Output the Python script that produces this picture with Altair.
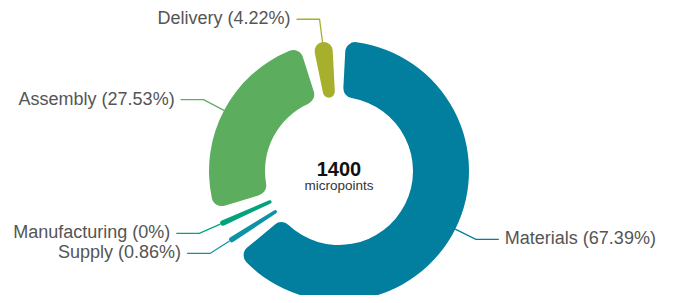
import math
import altair as alt
import pandas as pd

# ---- data ----
categories = ["Materials", "Supply", "Manufacturing", "Assembly", "Delivery"]
percents = [67.39, 0.86, 0.0, 27.53, 4.22]
colors = ["#027e9e", "#0c93a8", "#00a37c", "#5cae5e", "#a7b02d"]
center_value = "1400"
center_unit = "micropoints"

# ---- layout parameters (pixels / degrees) ----
W, H = 658, 287
CX, CY = 331, 163          # pie centre inside the view
R_IN, R_OUT = 74, 130
MIN_ANGLE = 8.5            # minimum sector angle (deg)
PAD = 6.0                  # angular gap between sectors (deg)
LEN1, LEN2, GAP = 23, 23, 6

# sector angles (small slices get MIN_ANGLE, the rest share what is left)
small = [p / 100 * 360 < MIN_ANGLE for p in percents]
rest = 360 - MIN_ANGLE * sum(small)
big_total = sum(p for p, s in zip(percents, small) if not s)
spans = [MIN_ANGLE if s else p / big_total * rest for p, s in zip(percents, small)]

arc_rows, line_rows, label_rows = [], [], []
start = 0.0
for cat, pct, span in zip(categories, percents, spans):
    a0, a1 = start + PAD / 2, start + span - PAD / 2
    start += span
    arc_rows.append({"cat": cat, "a0": a0, "a1": a1})
    mid = math.radians((a0 + a1) / 2)
    sx, cy_ = math.sin(mid), math.cos(mid)
    side = 1 if sx >= 0 else -1
    ax, ay = R_OUT * sx, R_OUT * cy_
    bx, by = (R_OUT + LEN1) * sx, (R_OUT + LEN1) * cy_
    cx_ = bx + side * LEN2
    for i, (px, py) in enumerate([(ax, ay), (bx, by), (cx_, by)]):
        line_rows.append({"cat": cat, "i": i, "x": px, "y": py})
    pct_txt = f"{pct:.2f}".rstrip("0").rstrip(".")
    label_rows.append({"cat": cat, "x": cx_ + side * GAP, "y": by,
                       "text": f"{cat} ({pct_txt}%)",
                       "align": "left" if side > 0 else "right"})

arcs = pd.DataFrame(arc_rows)
lines = pd.DataFrame(line_rows)
labels = pd.DataFrame(label_rows)

xs = alt.Scale(domain=[-CX, W - CX], nice=False, zero=False)
ys = alt.Scale(domain=[CY - H, CY], nice=False, zero=False)
cs = alt.Scale(domain=categories, range=colors)
FONT = "Liberation Sans"

arc = alt.Chart(arcs).mark_arc(innerRadius=R_IN, outerRadius=R_OUT, cornerRadius=10).encode(
    theta=alt.Theta("a0:Q", scale=alt.Scale(domain=[0, 360], range=[0, 2 * math.pi])),
    theta2="a1:Q",
    x=alt.datum(0, scale=xs, axis=None),
    y=alt.datum(0, scale=ys, axis=None),
    color=alt.Color("cat:N", scale=cs, legend=None),
)

leader = alt.Chart(lines).mark_line(strokeWidth=1.3).encode(
    x=alt.X("x:Q", scale=xs, axis=None),
    y=alt.Y("y:Q", scale=ys, axis=None),
    order="i:Q",
    detail="cat:N",
    color=alt.Color("cat:N", scale=cs, legend=None),
)

lab_r = alt.Chart(labels[labels["align"] == "left"]).mark_text(
    align="left", baseline="middle", font=FONT, fontSize=18, color="#555555"
).encode(x=alt.X("x:Q", scale=xs, axis=None), y=alt.Y("y:Q", scale=ys, axis=None), text="text:N")

lab_l = alt.Chart(labels[labels["align"] == "right"]).mark_text(
    align="right", baseline="middle", font=FONT, fontSize=18, color="#555555"
).encode(x=alt.X("x:Q", scale=xs, axis=None), y=alt.Y("y:Q", scale=ys, axis=None), text="text:N")

centre = pd.DataFrame({"x": [0, 0], "y": [0, 0], "t": [center_value, center_unit]})
val = alt.Chart(centre.iloc[[0]]).mark_text(
    align="center", baseline="alphabetic", dy=4.5, font=FONT, fontSize=20,
    fontWeight="bold", color="#111111"
).encode(x=alt.X("x:Q", scale=xs, axis=None), y=alt.Y("y:Q", scale=ys, axis=None), text="t:N")
unit = alt.Chart(centre.iloc[[1]]).mark_text(
    align="center", baseline="alphabetic", dy=19, font=FONT, fontSize=13.5, color="#333333"
).encode(x=alt.X("x:Q", scale=xs, axis=None), y=alt.Y("y:Q", scale=ys, axis=None), text="t:N")

chart = alt.layer(arc, leader, lab_r, lab_l, val, unit).properties(
    width=W, height=H, autosize=alt.AutoSizeParams(type="none"), padding=0
).configure(background="white", view=alt.ViewConfig(stroke=None))

chart.save("out.html", embed_options={"renderer": "svg", "actions": False})
